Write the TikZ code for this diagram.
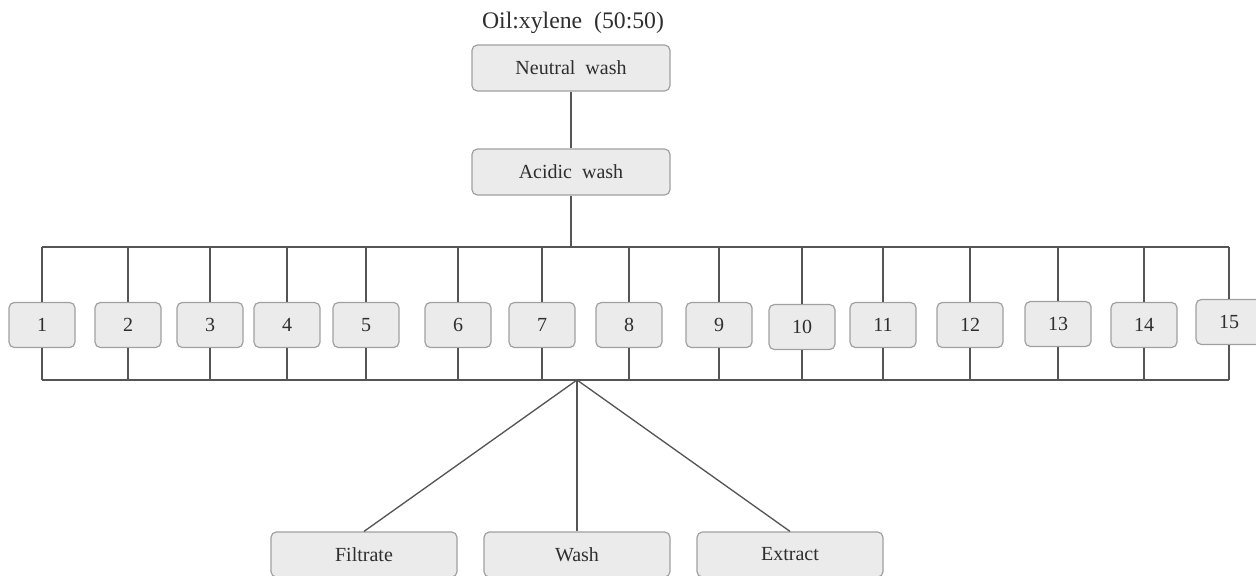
\documentclass[tikz,border=0pt]{standalone}
\usepackage{fontspec}
\setmainfont{Liberation Serif}
\definecolor{boxfill}{HTML}{EBEBEB}
\definecolor{boxline}{HTML}{A0A0A0}
\definecolor{wire}{HTML}{555555}
\definecolor{txt}{HTML}{2E2E2E}
\tikzset{
  washbox/.style={draw=boxline, fill=boxfill, rounded corners=4pt, line width=0.9pt,
    minimum width=148.5pt, minimum height=34.5pt, inner sep=0pt, text=txt},
  runbox/.style={washbox, minimum width=49.5pt, minimum height=33.75pt},
  partbox/.style={washbox, minimum width=139.5pt, minimum height=33.75pt},
  wire/.style={draw=wire, line width=1pt}
}
\begin{document}
\begin{tikzpicture}[x=0.75pt, y=-0.75pt, font=\fontsize{15}{17}\selectfont]
\useasboundingbox (0,0) rectangle (1256,575);
\node[text=txt, font=\fontsize{17.8}{20}\selectfont] (title) at (573,23) {Oil:xylene~~(50:50)};
\node[washbox] (neutral) at (571,68) {Neutral~~wash};
\node[washbox] (acidic) at (571,172) {Acidic~~wash};
\draw[wire] (neutral) -- (acidic);
% the fifteen runs between the two bus lines
\coordinate (topbus) at (571,247);
\coordinate (botbus) at (577,380);
\foreach \n/\x/\y in {1/42/325, 2/128/325, 3/210/325, 4/287/325, 5/366/325,
  6/458/325, 7/542/325, 8/629/325, 9/719/325, 10/802/327, 11/883/325,
  12/970/325, 13/1058/324, 14/1144/325, 15/1229/322}
{
  \node[runbox] (r\n) at (\x,\y) {\n};
  \draw[wire] (r\n.north) -- (r\n.north |- topbus);
  \draw[wire] (r\n.south) -- (r\n.south |- botbus);
}
\draw[wire] (acidic) -- (topbus);
\draw[wire] (r1.north |- topbus) -- (r15.north |- topbus);
\draw[wire] (r1.south |- botbus) -- (r15.south |- botbus);
% products
\node[partbox] (filtrate) at (364,554.5) {Filtrate};
\node[partbox] (wash) at (577,554.5) {Wash};
\node[partbox] (extract) at (790,554.5) {Extract};
\draw[wire] (botbus) -- (filtrate.north);
\draw[wire] (botbus) -- (wash.north);
\draw[wire] (botbus) -- (extract.north);
\end{tikzpicture}
\end{document}
